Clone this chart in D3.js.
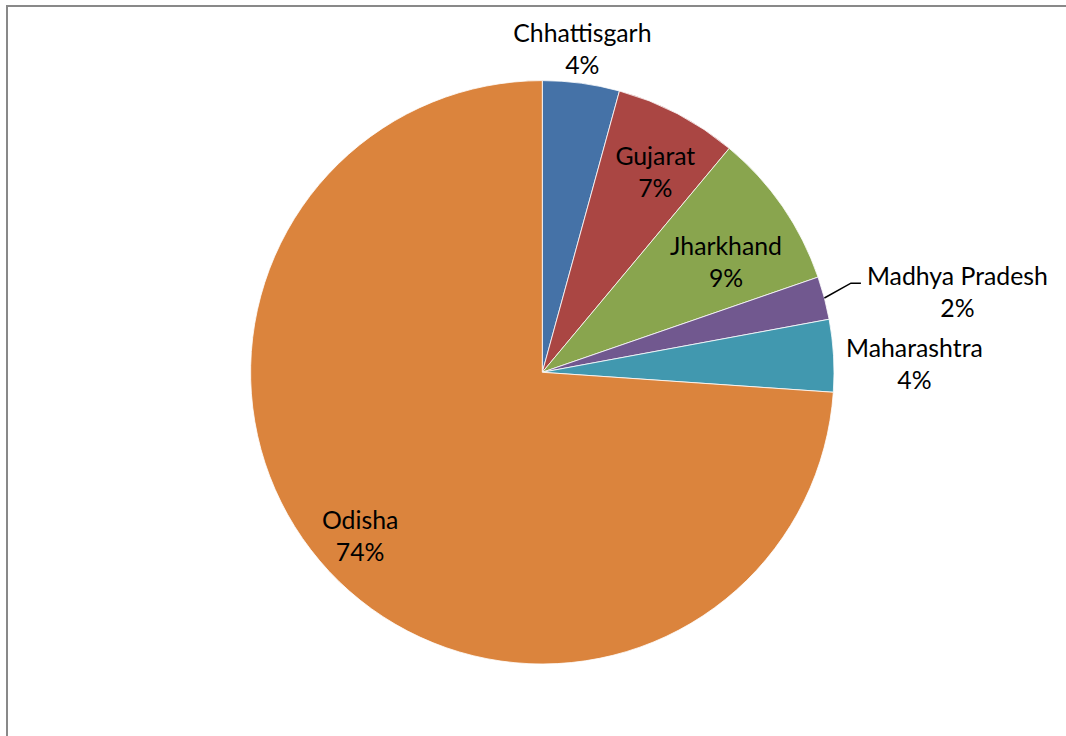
<!DOCTYPE html>
<html>
<head>
<meta charset="utf-8">
<script src="https://d3js.org/d3.v7.min.js"></script>
<style>
  html, body { margin: 0; padding: 0; background: #fff; }
  svg { display: block; }
  text { font-family: Lato, "Noto Sans", sans-serif; fill: #000; }
</style>
</head>
<body>
<div id="chart"></div>
<script>
// share of each state
const states = ['Chhattisgarh', 'Gujarat', 'Jharkhand', 'Madhya Pradesh', 'Maharashtra', 'Odisha'];
const shares = [4.26, 6.81, 8.64, 2.38, 4.00, 73.91];
const pctLabels = ['4%', '7%', '9%', '2%', '4%', '74%'];
const colors = ['#4572A7', '#AA4643', '#89A54E', '#71588F', '#4198AF', '#DB843D'];

const width = 1066, height = 736;
const cx = 542.3, cy = 372.3, radius = 291.7;

// label placement: radius factor and angle nudge (deg) per slice
const labelLayout = [
	{ r: 1.116, da: -0.6 },
	{ r: 0.787, da: 1.9 },
	{ r: 0.734, da: 3.7 },
	{ r: 1.449, da: 3.9, leader: true },
	{ r: 1.276, da: 2.05 },
	{ r: 0.841, da: 1.0 }
];

const svg = d3.select('#chart').append('svg')
	.attr('width', width)
	.attr('height', height);

// chart frame (runs off the right and bottom edges)
svg.append('rect')
	.attr('x', 7).attr('y', 6)
	.attr('width', width + 20).attr('height', height + 20)
	.attr('fill', 'none')
	.attr('stroke', '#898989')
	.attr('stroke-width', 2);

const data = states.map((s, i) => ({ name: s, value: shares[i], pct: pctLabels[i], color: colors[i], layout: labelLayout[i] }));

const pie = d3.pie().value(d => d.value).sort(null);
const arcs = pie(data);

const arc = d3.arc().innerRadius(0).outerRadius(radius);

const g = svg.append('g').attr('transform', `translate(${cx},${cy})`);

g.selectAll('path')
	.data(arcs)
	.enter()
	.append('path')
	.attr('d', arc)
	.attr('fill', d => d.data.color)
	.attr('stroke', '#fff')
	.attr('stroke-width', 0.8);

const polar = (angle, r) => [r * Math.sin(angle), -r * Math.cos(angle)];

const labels = g.selectAll('g.label')
	.data(arcs)
	.enter()
	.append('g')
	.attr('class', 'label')
	.each(function (d) {
		const mid = (d.startAngle + d.endAngle) / 2;
		const a = mid + d.data.layout.da * Math.PI / 180;
		const [x, y] = polar(a, radius * d.data.layout.r);
		const t = d3.select(this).append('text')
			.attr('text-anchor', 'middle')
			.style('font-size', '24.8px');
		t.append('tspan').attr('x', x).attr('y', y - 7.5).text(d.data.name);
		t.append('tspan').attr('x', x).attr('y', y + 24.5).text(d.data.pct);

		if (d.data.layout.leader) {
			const box = t.node().getBBox();
			const [sx, sy] = polar(mid, radius);
			const ex = box.x - 6, ey = y - 9.5;
			d3.select(this).insert('path', 'text')
				.attr('d', d3.line()([[sx, sy], [ex - 10, ey], [ex, ey]]))
				.attr('fill', 'none')
				.attr('stroke', '#000')
				.attr('stroke-width', 1.5);
		}
	});
</script>
</body>
</html>
